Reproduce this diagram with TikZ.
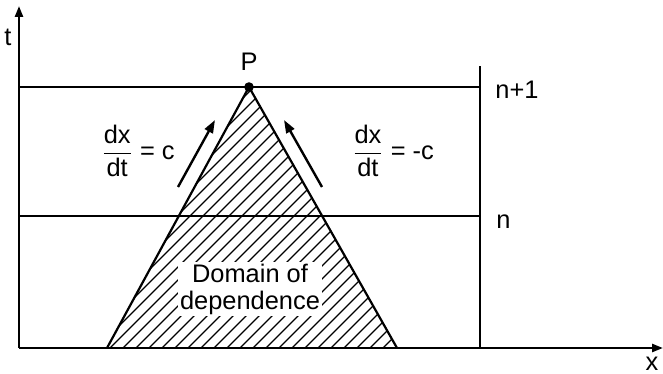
\documentclass[tikz,border=0pt]{standalone}
\usepackage{amsmath}
\usepackage{fontspec}
\setmainfont{Liberation Sans}
\usetikzlibrary{arrows.meta,positioning,calc}

\begin{document}
\begin{tikzpicture}[x=0.5pt,y=0.5pt,
  >={Triangle[length=5.5pt,width=4pt]},
  ax/.style={line width=1.2pt,->},
  ln/.style={line width=1.1pt},
  ch/.style={line width=1.2pt,->,>={Triangle[length=6.5pt,width=4.5pt]}},
  hat/.style={line width=0.6pt},
  lab/.style={font=\fontsize{12.7}{13.5}\selectfont, inner sep=1pt},
]
\useasboundingbox (0,0) rectangle (663,374);
\coordinate (O) at (19,26);
\coordinate (T) at (19,368);
\coordinate (X) at (663,26);
\coordinate (A) at (107,26);
\coordinate (B) at (397,26);
\coordinate (P) at (249,287);
\coordinate (N1L) at (19,287);
\coordinate (N1R) at (480,287);
\coordinate (NL) at (19,158);
\coordinate (NR) at (480,158);
\coordinate (RT) at (480,308);
\coordinate (RB) at (480,26);
\coordinate (La) at (178,187);
\coordinate (Lb) at (215,254);
\coordinate (Ra) at (322,187);
\coordinate (Rb) at (284,254);
\begin{scope}
\clip (A) -- (P) -- (B) -- cycle;
\foreach \s in {-20,-7,...,400} \draw[hat] (\s,26) -- ++(280,280);
\end{scope}
\draw[ax] (O) -- (T);
\draw[ax] (O) -- (X);
\draw[ln] (N1L) -- (N1R);
\draw[ln] (NL) -- (NR);
\draw[ln] (RB) -- (RT);
\draw[ln] (A) -- (P) -- (B);
\draw[ch] (La) -- (Lb);
\draw[ch] (Ra) -- (Rb);
\fill (P) circle[radius=2.4pt];
\node[lab] (tl) at (8,337) {t};
\node[lab] (xl) at (652,10) {x};
\node[lab] (pl) at (249,312) {P};
\node[lab, anchor=west] (n1) at (493,284) {n+1};
\node[lab, anchor=west] (n0) at (494,152) {n};
\node[lab] (sl) at (138,223) {$\dfrac{\text{dx}}{\text{dt}}$ = c};
\node[lab] (sr) at (393,223) {$\dfrac{\text{dx}}{\text{dt}}$ = -c};
\node[lab, fill=white, align=center] (dom) at (250,85) {Domain of\\dependence};
\end{tikzpicture}
\end{document}
